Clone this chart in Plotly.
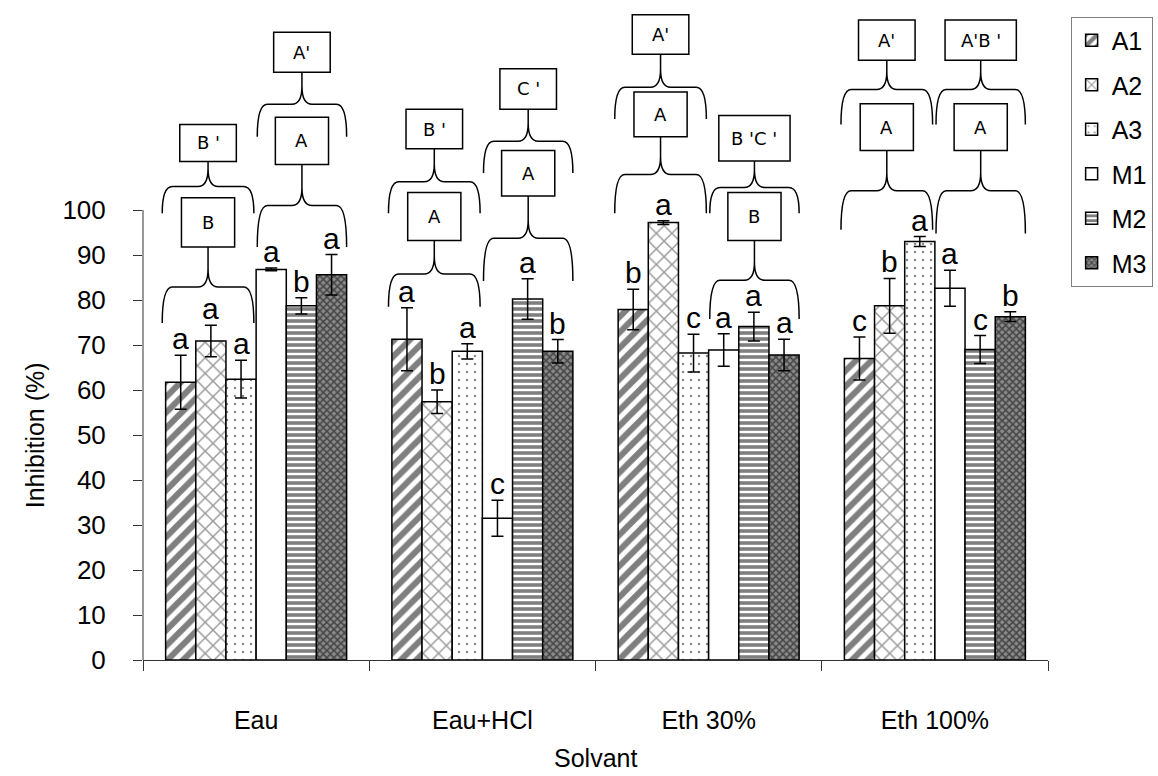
import plotly.graph_objects as go

# Solvent categories and inhibition values (%) per extract
categories = ["Eau", "Eau+HCl", "Eth 30%", "Eth 100%"]
series_names = ["A1", "A2", "A3", "M1", "M2", "M3"]

a1 = [61.7, 71.3, 77.9, 67.0]
a2 = [70.9, 57.4, 97.2, 78.7]
a3 = [62.4, 68.6, 68.2, 93.0]
m1 = [86.8, 31.5, 68.9, 82.6]
m2 = [78.7, 80.2, 74.1, 69.0]
m3 = [85.6, 68.6, 67.8, 76.3]

a1_err = [6.0, 7.0, 4.5, 4.8]
a2_err = [3.5, 2.6, 0.4, 6.1]
a3_err = [4.2, 1.7, 4.2, 1.1]
m1_err = [0.3, 4.0, 3.6, 4.0]
m2_err = [1.8, 4.5, 3.2, 3.1]
m3_err = [4.5, 2.6, 3.5, 1.1]

# Significance letters per bar
a1_lett = ["a", "a", "b", "c"]
a2_lett = ["a", "b", "a", "b"]
a3_lett = ["a", "a", "c", "a"]
m1_lett = ["a", "c", "a", "a"]
m2_lett = ["b", "a", "a", "c"]
m3_lett = ["a", "b", "a", "b"]

# Group letters (A = A1-A3 extracts, M = M1-M3 extracts) per solvent
grp_A_lower = ["B", "A", "A", "A"]
grp_M_lower = ["A", "A", "B", "A"]
grp_A_upper = ["B '", "B '", "A'", "A'"]
grp_M_upper = ["A'", "C '", "B 'C '", "A'B '"]

values = [a1, a2, a3, m1, m2, m3]
errors = [a1_err, a2_err, a3_err, m1_err, m2_err, m3_err]
letters = [a1_lett, a2_lett, a3_lett, m1_lett, m2_lett, m3_lett]

patterns = [
    dict(shape="/", fgcolor="black", bgcolor="white", size=11, solidity=0.55),
    dict(shape="x", fgcolor="#333333", bgcolor="white", size=11, solidity=0.25),
    dict(shape=".", fgcolor="#111111", bgcolor="white", size=8, solidity=0.08),
    dict(shape="", fgcolor="black", bgcolor="white"),
    dict(shape="-", fgcolor="black", bgcolor="white", size=6, solidity=0.6),
    dict(shape="x", fgcolor="black", bgcolor="#8a8a8a", size=5, solidity=0.5),
]

FONT = "Arial, Liberation Sans, sans-serif"
BOXFONT = "DejaVu Sans, Verdana, sans-serif"

x_pos = list(range(len(categories)))
n = len(series_names)
group_w = 0.8
bar_w = group_w / n

fig = go.Figure()
for k, name in enumerate(series_names):
    fig.add_trace(go.Bar(
        x=x_pos, y=values[k], name=name, legendgroup=name,
        marker=dict(color="white", line=dict(color="black", width=1.5),
                    pattern=patterns[k]),
        error_y=dict(type="data", array=errors[k], visible=True,
                     color="black", thickness=1.5, width=6),
    ))

annotations = []
shapes = []

# letters above each bar's error bar
for k in range(n):
    for i in x_pos:
        xc = i + (k - (n - 1) / 2) * bar_w
        annotations.append(dict(
            x=xc, y=values[k][i] + errors[k][i], xref="x", yref="y",
            text=letters[k][i], showarrow=False, yanchor="bottom",
            yshift=-2, font=dict(family=FONT, size=30, color="black")))

# bracket levels per extract group: lower brace ends, lower brace bar,
# lower box bottom/top, upper brace ends, upper brace bar, upper box bottom/top
levels_A = [
    [74.9, 82.9, 91.8, 102.7, 99.3, 105.2, 110.8, 119.0],
    [78.5, 85.8, 93.2, 103.9, 99.3, 106.3, 113.6, 122.4],
    [99.3, 107.9, 116.3, 126.2, 120.2, 127.3, 134.6, 143.4],
    [95.6, 104.3, 113.2, 123.6, 119.0, 126.8, 133.3, 142.2],
]
levels_M = [
    [91.8, 101.0, 110.1, 120.6, 116.3, 123.5, 130.6, 139.5],
    [84.2, 93.7, 103.1, 113.2, 108.2, 115.3, 122.4, 131.4],
    [75.8, 84.4, 93.2, 103.9, 99.3, 105.0, 110.9, 121.0],
    [94.8, 104.3, 113.2, 123.6, 119.0, 126.8, 133.3, 142.2],
]


def brace_path(xl, xr, ye, yh, ytip):
    xc = (xl + xr) / 2
    dx = 0.045
    dyc = 4.0
    return (f"M{xl},{ye} Q{xl},{yh} {xl + dx},{yh} L{xc - dx},{yh} "
            f"Q{xc},{yh} {xc},{yh + dyc} L{xc},{ytip} "
            f"M{xc},{yh + dyc} Q{xc},{yh} {xc + dx},{yh} L{xr - dx},{yh} "
            f"Q{xr},{yh} {xr},{ye}")


def add_bracket(xl, xr, lv, low_txt, up_txt):
    xc = (xl + xr) / 2
    line = dict(color="black", width=1.5)
    shapes.append(dict(type="path", xref="x", yref="y",
                       path=brace_path(xl, xr, lv[0], lv[1], lv[2]), line=line))
    w1 = 0.235
    shapes.append(dict(type="rect", xref="x", yref="y", x0=xc - w1 / 2,
                       x1=xc + w1 / 2, y0=lv[2], y1=lv[3], line=line,
                       fillcolor="white"))
    annotations.append(dict(x=xc, y=(lv[2] + lv[3]) / 2, xref="x", yref="y",
                            text=low_txt, showarrow=False,
                            font=dict(family=BOXFONT, size=18, color="black")))
    shapes.append(dict(type="path", xref="x", yref="y",
                       path=brace_path(xl, xr, lv[4], lv[5], lv[6]), line=line))
    w2 = 0.25 if len(up_txt.replace(" ", "")) <= 2 else 0.315
    shapes.append(dict(type="rect", xref="x", yref="y", x0=xc - w2 / 2,
                       x1=xc + w2 / 2, y0=lv[6], y1=lv[7], line=line,
                       fillcolor="white"))
    annotations.append(dict(x=xc, y=(lv[6] + lv[7]) / 2, xref="x", yref="y",
                            text=up_txt, showarrow=False,
                            font=dict(family=BOXFONT, size=18, color="black")))


for i in x_pos:
    add_bracket(i - group_w / 2 - 0.015, i - 0.01, levels_A[i],
                grp_A_lower[i], grp_A_upper[i])
    add_bracket(i + 0.005, i + group_w / 2, levels_M[i],
                grp_M_lower[i], grp_M_upper[i])

# y axis line only over the 0-100 scale
shapes.append(dict(type="line", xref="paper", yref="y", x0=0, x1=0, y0=0,
                   y1=100, line=dict(color="#333333", width=1)))

annotations.append(dict(x=-0.119, y=50, xref="paper", yref="y",
                        xanchor="center", yanchor="middle",
                        text="Inhibition (%)", textangle=-90, showarrow=False,
                        font=dict(family=FONT, size=25, color="black")))
annotations.append(dict(x=0.5, y=-0.148, xref="paper", yref="paper",
                        xanchor="center", yanchor="middle",
                        text="Solvant", showarrow=False,
                        font=dict(family=FONT, size=25, color="black")))

fig.update_layout(
    width=1158, height=776,
    margin=dict(l=143, r=110, t=0, b=116, autoexpand=False),
    paper_bgcolor="white", plot_bgcolor="white",
    barmode="group", bargap=0.2, bargroupgap=0,
    shapes=shapes, annotations=annotations,
    legend=dict(x=1.025, y=0.975, xanchor="left", yanchor="top",
                bordercolor="#808080", borderwidth=1, bgcolor="white",
                font=dict(family=FONT, size=25, color="black"),
                tracegroupgap=9),
    xaxis=dict(range=[-0.5, 3.5], tickvals=x_pos, ticktext=categories,
               showline=True, linecolor="#333333", linewidth=1,
               showgrid=False, zeroline=False, ticks="", ticklabelstandoff=38,
               tickfont=dict(family=FONT, size=25, color="black"),
               minor=dict(tick0=-0.5, dtick=1, ticks="outside", ticklen=10,
                          tickcolor="#333333")),
    yaxis=dict(range=[0, 660 / 4.5], tickvals=list(range(0, 101, 10)),
               ticks="outside", ticklen=9, tickcolor="#333333",
               showline=False, showgrid=False, zeroline=False,
               ticklabelstandoff=22,
               tickfont=dict(family=FONT, size=26, color="black")),
)

fig.write_html("out.html")
